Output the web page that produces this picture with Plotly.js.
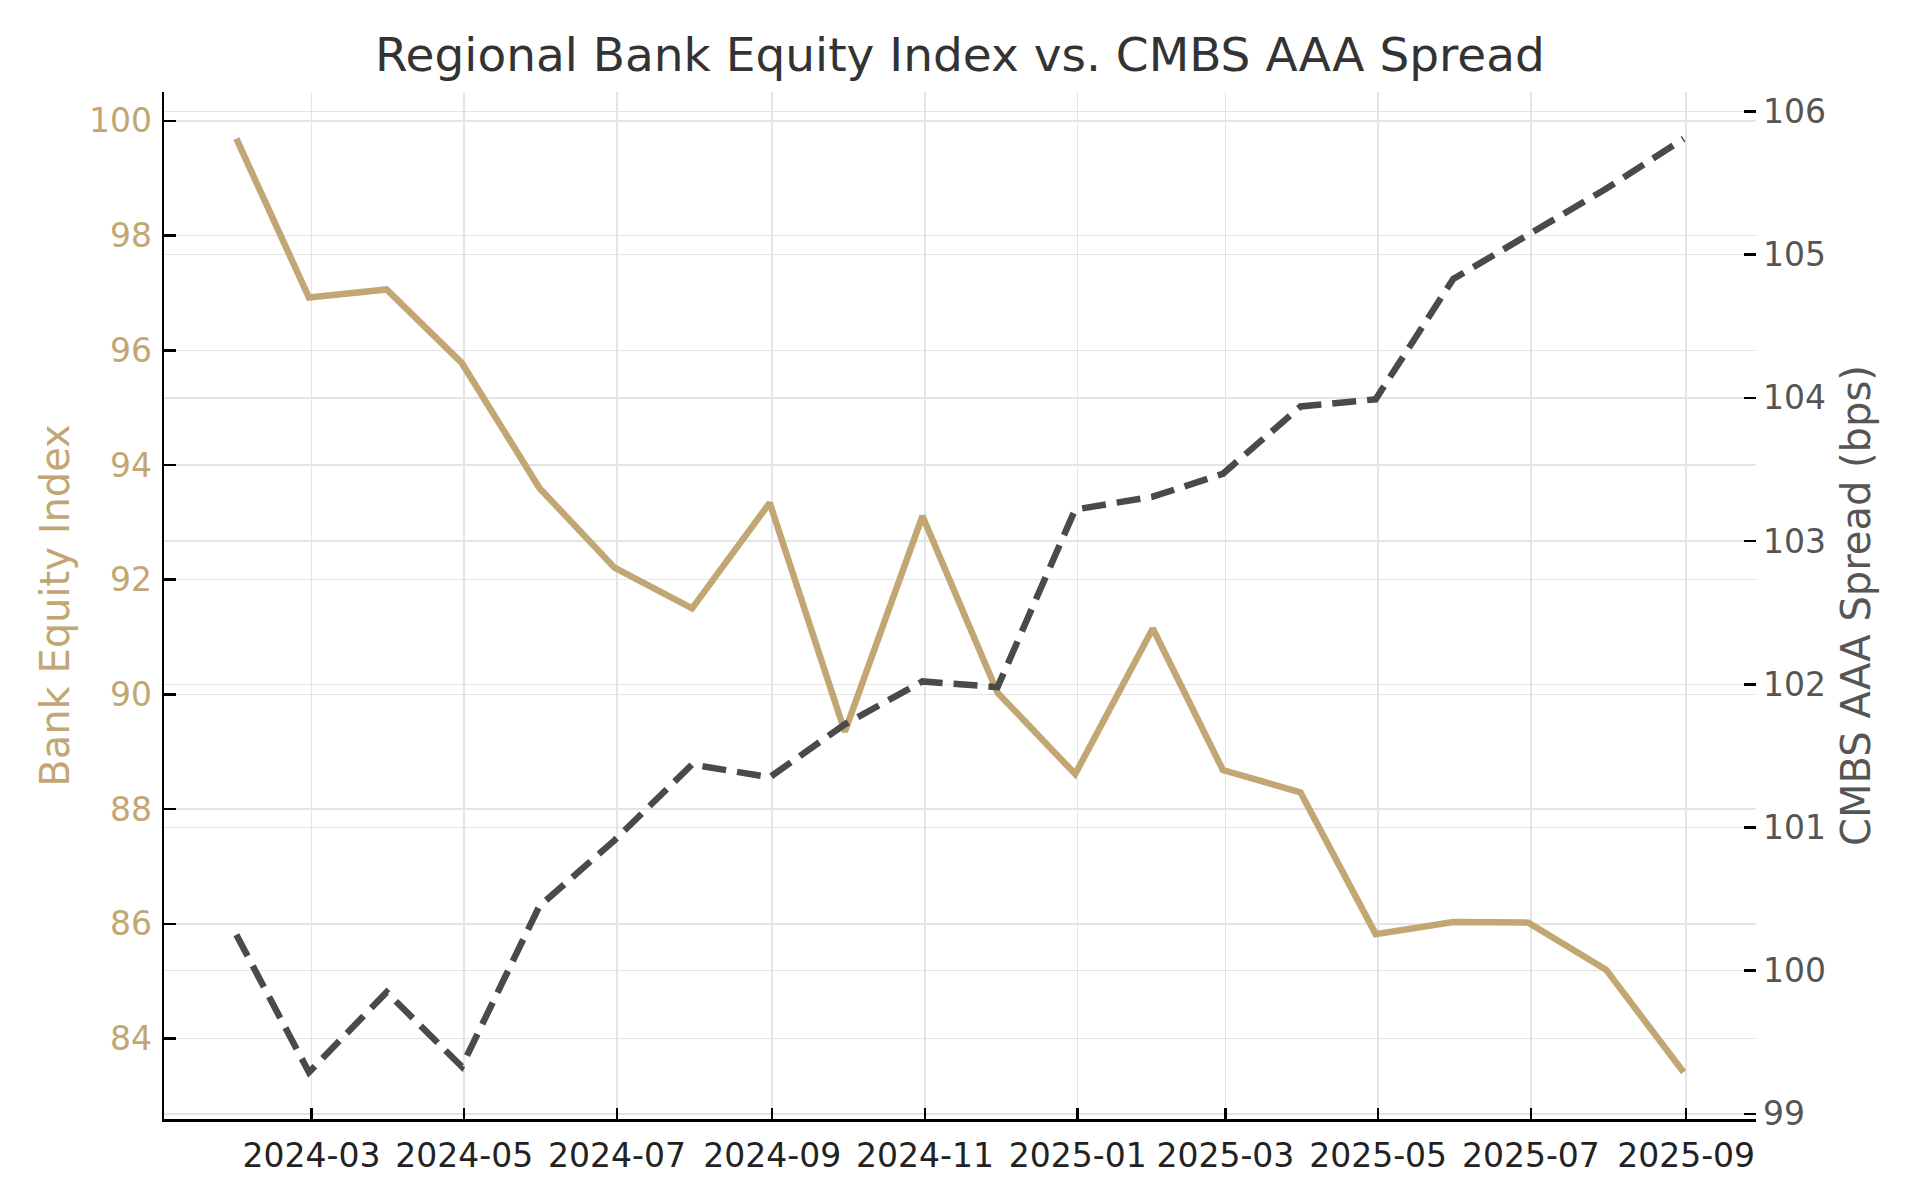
<!DOCTYPE html>
<html>
<head>
<meta charset="utf-8">
<script src="https://cdn.plot.ly/plotly-3.0.1.min.js"></script>
<style>
  html, body { margin: 0; padding: 0; background: #ffffff; }
  #chart { width: 1920px; height: 1200px; }
</style>
</head>
<body>
<div id="chart"></div>
<script>
// Month-end observation dates
const dates = [
  '2024-01-31','2024-02-29','2024-03-31','2024-04-30','2024-05-31','2024-06-30',
  '2024-07-31','2024-08-31','2024-09-30','2024-10-31','2024-11-30','2024-12-31',
  '2025-01-31','2025-02-28','2025-03-31','2025-04-30','2025-05-31','2025-06-30',
  '2025-07-31','2025-08-31'
];

// Regional Bank Equity Index (left axis)
const equityIndex = [
  99.69, 96.92, 97.06, 95.78, 93.60, 92.21, 91.50, 93.34, 89.35, 93.11,
  90.03, 88.61, 91.15, 88.68, 88.29, 85.82, 86.03, 86.02, 85.20, 83.41
];

// CMBS AAA Spread in bps (right axis)
const cmbsSpread = [
  100.25, 99.29, 99.85, 99.33, 100.45, 100.91, 101.44, 101.35, 101.72, 102.02,
  101.98, 103.22, 103.31, 103.47, 103.94, 103.99, 104.83, 105.14, 105.46, 105.81
];

const chartTitle = 'Regional Bank Equity Index vs. CMBS AAA Spread';
const leftTitle = 'Bank Equity Index';
const rightTitle = 'CMBS AAA Spread (bps)';

const TAN = '#C2A674';
const DARK = '#4a4a4a';
const GRID = '#e4e4e4';
const FONT = 'DejaVu Sans, sans-serif';

function padRange(vals, frac) {
  const mn = Math.min(...vals), mx = Math.max(...vals);
  const p = (mx - mn) * frac;
  return [mn - p, mx + p];
}
function padDateRange(ds, frac) {
  const t = ds.map(d => new Date(d + 'T00:00:00Z').getTime());
  const mn = Math.min(...t), mx = Math.max(...t);
  const p = (mx - mn) * frac;
  const f = ms => new Date(ms).toISOString().replace('T', ' ').replace('Z', '');
  return [f(mn - p), f(mx + p)];
}

const traces = [
  {
    x: dates, y: equityIndex, type: 'scatter', mode: 'lines',
    name: leftTitle, yaxis: 'y',
    line: { color: TAN, width: 6.5 }
  },
  {
    x: dates, y: cmbsSpread, type: 'scatter', mode: 'lines',
    name: rightTitle, yaxis: 'y2',
    line: { color: DARK, width: 6.5, dash: '24px,11px' }
  }
];

const layout = {
  width: 1920, height: 1200,
  paper_bgcolor: '#ffffff', plot_bgcolor: '#ffffff',
  showlegend: false,
  margin: { l: 164, r: 164, t: 92, b: 81 },
  font: { family: FONT },
  title: {
    text: chartTitle,
    font: { family: FONT, size: 47, color: '#333333' },
    x: 0.5, xanchor: 'center', xref: 'paper',
    y: 1 - 55 / 1200, yanchor: 'middle', yref: 'container'
  },
  xaxis: {
    type: 'date',
    range: padDateRange(dates, 0.05),
    tick0: '2024-03-01', dtick: 'M2', tickformat: '%Y-%m',
    ticks: 'inside', ticklen: 11, tickwidth: 2.5, tickcolor: '#000000',
    showline: true, linecolor: '#000000', linewidth: 2.5,
    showgrid: true, gridcolor: GRID, gridwidth: 1.5,
    zeroline: false,
    tickfont: { family: FONT, size: 33, color: '#222222' },
    ticklabelstandoff: 6
  },
  yaxis: {
    range: padRange(equityIndex, 0.05),
    tick0: 84, dtick: 2,
    ticks: 'inside', ticklen: 12, tickwidth: 2.5, tickcolor: '#000000',
    showline: true, linecolor: '#000000', linewidth: 2.5,
    showgrid: true, gridcolor: GRID, gridwidth: 1.5,
    zeroline: false,
    tickfont: { family: FONT, size: 33, color: TAN },
    ticklabelstandoff: 3,
    title: { text: leftTitle, font: { family: FONT, size: 40, color: TAN }, standoff: 7 }
  },
  yaxis2: {
    overlaying: 'y', side: 'right', anchor: 'x',
    range: padRange(cmbsSpread, 0.05),
    tick0: 99, dtick: 1,
    ticks: 'inside', ticklen: 12, tickwidth: 2.5, tickcolor: '#000000',
    showline: false,
    showgrid: true, gridcolor: GRID, gridwidth: 1.5,
    zeroline: false,
    tickfont: { family: FONT, size: 33, color: '#555555' },
    ticklabelstandoff: 6,
    title: { text: rightTitle, font: { family: FONT, size: 40, color: '#555555' }, standoff: 16 }
  }
};

Plotly.newPlot('chart', traces, layout, { displayModeBar: false, staticPlot: true });
</script>
</body>
</html>
